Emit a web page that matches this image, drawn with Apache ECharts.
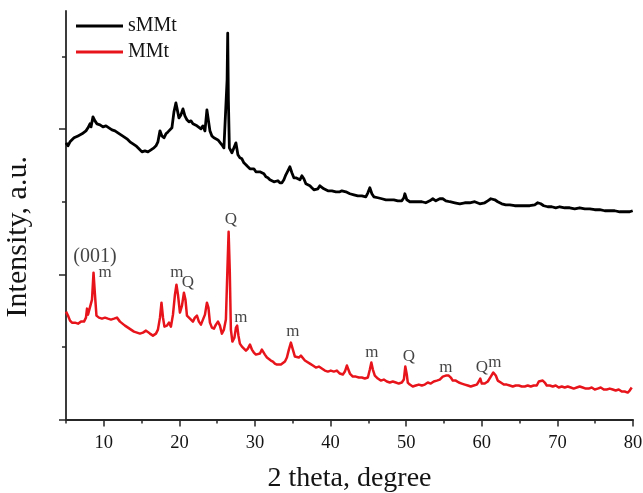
<!DOCTYPE html>
<html>
<head>
<meta charset="utf-8">
<script src="https://cdn.jsdelivr.net/npm/echarts@6/dist/echarts.min.js"></script>
<style>
  html, body { margin: 0; padding: 0; background: #fff; }
  #chart { width: 643px; height: 493px; }
</style>
</head>
<body>
<div id="chart"></div>
<script>
// XRD patterns: 2θ (degree) against intensity (a.u.)
const thetaSMMt = [5.0,5.26,5.53,5.79,6.06,6.32,6.59,6.85,7.12,7.38,7.64,7.91,8.17,8.31,8.57,8.83,9.10,9.50,9.89,10.29,10.68,11.08,11.48,11.87,12.27,12.67,13.06,13.46,13.86,14.25,14.65,15.05,15.44,15.84,16.24,16.63,16.90,17.16,17.43,17.69,17.96,18.22,18.49,18.75,19.01,19.28,19.54,19.67,19.94,20.20,20.47,20.73,21.0,21.26,21.53,21.79,22.05,22.32,22.58,22.85,23.11,23.38,23.64,23.77,24.04,24.30,24.57,24.83,25.10,25.36,25.62,25.89,26.15,26.31,26.39,26.48,26.61,26.95,27.21,27.48,27.74,28.0,28.27,28.53,28.80,29.06,29.33,29.59,29.85,30.12,30.38,30.65,30.91,31.18,31.44,31.71,31.97,32.23,32.50,32.76,33.03,33.29,33.56,33.82,34.08,34.35,34.61,34.88,35.14,35.41,35.67,35.94,36.20,36.46,36.73,36.99,37.26,37.52,37.79,38.05,38.32,38.58,38.84,39.11,39.37,39.64,39.90,40.17,40.43,40.70,40.96,41.22,41.49,41.75,42.02,42.28,42.55,43.08,43.60,44.13,44.66,44.93,45.19,45.46,45.72,46.25,46.78,47.31,47.83,48.36,48.89,49.42,49.69,49.82,50.08,50.48,51.01,51.54,52.07,52.59,53.12,53.52,53.92,54.44,54.84,55.24,55.77,56.43,57.09,57.75,58.41,59.07,59.73,60.39,60.79,61.19,61.45,61.72,62.11,62.64,63.17,63.70,64.36,65.02,65.68,66.34,67.0,67.40,67.80,68.19,68.72,69.25,69.78,70.31,70.97,71.63,72.29,72.95,73.62,74.28,74.94,75.60,76.26,76.92,77.58,78.24,78.90,79.56,79.96];
const intensitySMMt = [3810,3769,3824,3838,3879,3865,3906,3893,3934,3948,3975,4017,4072,4030,4168,4113,4072,4058,4030,4044,4017,3989,3975,3948,3920,3893,3865,3824,3796,3769,3728,3686,3700,3686,3714,3741,3769,3824,3975,3906,3879,3934,3961,3975,4017,4237,4360,4292,4154,4195,4278,4182,4127,4099,4113,4072,4072,4044,4058,4003,4044,3975,4264,4237,3975,3906,3879,3893,3851,3838,3783,3741,3714,4677,5320,4402,3741,3673,3659,3810,3645,3604,3590,3535,3508,3480,3453,3480,3453,3411,3398,3411,3425,3384,3342,3329,3301,3288,3274,3274,3288,3260,3260,3301,3370,3425,3480,3398,3329,3329,3342,3301,3356,3315,3246,3232,3219,3191,3164,3177,3177,3219,3205,3177,3164,3150,3164,3150,3136,3136,3122,3136,3150,3164,3136,3122,3109,3095,3081,3081,3067,3122,3191,3109,3067,3054,3040,3026,3026,3026,3012,3012,3054,3109,3026,2999,2999,2999,2999,2985,3012,3040,3012,3040,3040,3012,2999,2985,2971,2985,2985,2999,2971,2985,3012,3040,3067,3026,2999,2971,2957,2957,2944,2944,2944,2944,2957,2985,2971,2944,2930,2930,2916,2930,2916,2916,2902,2916,2902,2902,2889,2889,2875,2875,2875,2861,2861,2861,2875];

const thetaMMt = [5.0,5.26,5.53,5.79,6.19,6.59,6.98,7.38,7.64,7.78,7.91,8.17,8.44,8.64,8.83,9.03,9.36,9.76,10.16,10.55,10.95,11.35,11.74,12.14,12.40,12.80,13.20,13.59,13.99,14.39,14.78,15.18,15.58,15.84,16.10,16.50,16.90,17.16,17.43,17.63,17.83,18.02,18.35,18.62,18.88,19.15,19.41,19.61,19.81,20.07,20.34,20.60,20.80,21.0,21.26,21.53,21.79,22.05,22.32,22.58,22.85,23.11,23.38,23.64,23.84,24.04,24.30,24.57,24.83,25.10,25.36,25.62,25.89,26.15,26.35,26.51,26.66,26.81,27.01,27.28,27.48,27.64,27.81,28.0,28.27,28.53,28.80,29.06,29.33,29.59,29.85,30.12,30.38,30.65,30.91,31.11,31.31,31.58,31.84,32.10,32.37,32.63,32.90,33.16,33.43,33.69,33.96,34.22,34.48,34.75,35.01,35.28,35.54,35.80,36.07,36.33,36.60,36.86,37.26,37.66,38.05,38.45,38.84,39.24,39.64,40.03,40.43,40.83,41.22,41.62,41.89,42.15,42.35,42.55,42.94,43.34,43.74,44.13,44.53,44.93,45.19,45.39,45.59,45.85,46.25,46.64,47.04,47.44,47.83,48.23,48.63,49.02,49.42,49.69,49.88,50.08,50.21,50.48,50.87,51.27,51.67,52.07,52.46,52.86,53.25,53.65,54.05,54.44,54.84,55.24,55.63,55.90,56.16,56.56,56.96,57.35,57.75,58.15,58.54,58.94,59.34,59.60,59.80,60.0,60.39,60.79,61.19,61.52,61.85,62.11,62.51,62.91,63.30,63.70,64.10,64.49,64.89,65.29,65.68,66.08,66.48,66.87,67.27,67.54,67.80,68.06,68.33,68.59,68.99,69.39,69.78,70.18,70.58,70.97,71.37,71.77,72.16,72.56,72.95,73.35,73.75,74.14,74.54,74.94,75.33,75.73,76.13,76.52,76.92,77.32,77.71,78.11,78.51,78.90,79.30,79.56,79.83];
const intensityMMt = [1486,1431,1362,1334,1334,1320,1348,1348,1403,1527,1444,1431,1651,2022,1719,1431,1403,1389,1403,1389,1376,1389,1403,1348,1362,1293,1265,1238,1210,1197,1183,1197,1224,1238,1183,1155,1183,1238,1403,1609,1403,1279,1293,1334,1279,1444,1719,1857,1719,1472,1568,1747,1651,1431,1417,1376,1348,1403,1431,1348,1307,1334,1444,1609,1541,1334,1265,1252,1307,1348,1293,1183,1238,1376,2063,2586,2063,1238,1073,1128,1265,1293,1155,1045,1004,977,949,977,1032,963,922,894,880,908,963,977,894,853,839,812,798,770,757,743,757,770,798,853,963,1059,963,867,867,853,880,894,812,798,770,743,715,729,702,674,660,674,660,674,633,619,660,743,743,633,591,591,578,578,564,578,688,784,688,605,564,536,550,523,509,523,509,495,509,550,729,619,509,481,454,468,481,468,481,509,495,523,536,550,591,605,605,578,536,536,509,495,481,468,454,468,481,523,564,495,495,523,591,647,605,536,509,481,481,468,454,468,468,454,454,468,454,468,468,523,536,536,509,468,468,454,468,440,454,440,454,440,426,440,454,440,426,426,440,413,426,440,413,413,426,413,399,413,385,385,371,399,440];

// Reflection tags on the MMt pattern (m = montmorillonite, Q = quartz)
const peakTags = ['(001)', 'm', 'm', 'Q', 'Q', 'm', 'm', 'm', 'Q', 'm', 'Q', 'm'];
const peakTagTheta = [8.83, 10.16, 19.67, 21.13, 26.81, 28.14, 35.01, 45.45, 50.35, 55.24, 60.0, 61.72];
const peakTagLevel = [2242, 2022, 2022, 1884, 2751, 1403, 1210, 922, 867, 715, 715, 784];

// Axis ticks
const xTickLabels = [10, 20, 30, 40, 50, 60, 70, 80];
const xMinorTicks = [5, 15, 25, 35, 45, 55, 65, 75];
const yMajorTicks = [0, 2000, 4000];
const yMinorTicks = [1000, 3000, 5000];

const serif = 'Liberation Serif';
const axisColor = '#262626';
const textColor = '#141414';

const pairs = (xs, ys) => xs.map((x, i) => [x, ys[i]]);

const chart = echarts.init(document.getElementById('chart'), null, { renderer: 'canvas' });

chart.setOption({
  animation: false,
  backgroundColor: '#fff',
  grid: { left: 66, right: 10, top: 11, bottom: 73.5, containLabel: false, outerBoundsMode: 'none' },
  legend: {
    orient: 'vertical',
    left: 71,
    top: 11,
    itemWidth: 47,
    itemHeight: 3,
    itemGap: 6,
    icon: 'rect',
    data: ['sMMt', 'MMt'],
    textStyle: { fontFamily: serif, fontSize: 20, color: textColor }
  },
  xAxis: [
    {
      type: 'value', min: 5, max: 80, position: 'bottom',
      name: '2 theta, degree', nameLocation: 'middle', nameGap: 45,
      nameTextStyle: { fontFamily: serif, fontSize: 28, color: textColor },
      axisLine: { show: true, lineStyle: { color: axisColor, width: 1.8 } },
      axisTick: { show: true, inside: false, length: 7, customValues: xTickLabels, lineStyle: { color: axisColor, width: 1.5 } },
      axisLabel: { customValues: xTickLabels, margin: 14, fontFamily: serif, fontSize: 18.5, color: textColor },
      splitLine: { show: false }
    },
    {
      type: 'value', min: 5, max: 80, position: 'bottom', offset: 0,
      axisLine: { show: false },
      axisTick: { show: true, length: 4, customValues: xMinorTicks, lineStyle: { color: axisColor, width: 1.5 } },
      axisLabel: { show: false },
      splitLine: { show: false }
    }
  ],
  yAxis: [
    {
      type: 'value', min: 0, max: 5626, position: 'left',
      name: 'Intensity, a.u.', nameLocation: 'middle', nameGap: 33, nameRotate: 90,
      nameTextStyle: { fontFamily: serif, fontSize: 30, color: textColor, padding: [0, 43, 0, 0] },
      axisLine: { show: true, lineStyle: { color: axisColor, width: 1.8 } },
      axisTick: { show: true, length: 7, customValues: yMajorTicks, lineStyle: { color: axisColor, width: 1.5 } },
      axisLabel: { show: false },
      splitLine: { show: false }
    },
    {
      type: 'value', min: 0, max: 5626, position: 'left', offset: 0,
      axisLine: { show: false },
      axisTick: { show: true, length: 4, customValues: yMinorTicks, lineStyle: { color: axisColor, width: 1.5 } },
      axisLabel: { show: false },
      splitLine: { show: false }
    }
  ],
  series: [
    {
      name: 'sMMt', type: 'line', xAxisIndex: 0, yAxisIndex: 0,
      data: pairs(thetaSMMt, intensitySMMt),
      showSymbol: false, symbol: 'none',
      itemStyle: { color: '#000' },
      lineStyle: { color: '#000', width: 2.8, join: 'round' }
    },
    {
      name: 'MMt', type: 'line', xAxisIndex: 0, yAxisIndex: 0,
      data: pairs(thetaMMt, intensityMMt),
      showSymbol: false, symbol: 'none',
      itemStyle: { color: '#e8141b' },
      lineStyle: { color: '#e8141b', width: 2.5, join: 'round' }
    },
    {
      name: 'tags', type: 'scatter', xAxisIndex: 0, yAxisIndex: 0,
      silent: true, symbolSize: 1,
      itemStyle: { color: 'rgba(0,0,0,0)' },
      label: {
        show: true, position: 'inside',
        fontFamily: serif, fontSize: 17, color: textColor,
        formatter: p => p.name
      },
      data: peakTags.map((t, i) => ({
        name: t,
        value: [peakTagTheta[i], peakTagLevel[i]],
        label: t.length > 1 ? { fontSize: 20 } : undefined
      }))
    }
  ]
});
</script>
</body>
</html>
